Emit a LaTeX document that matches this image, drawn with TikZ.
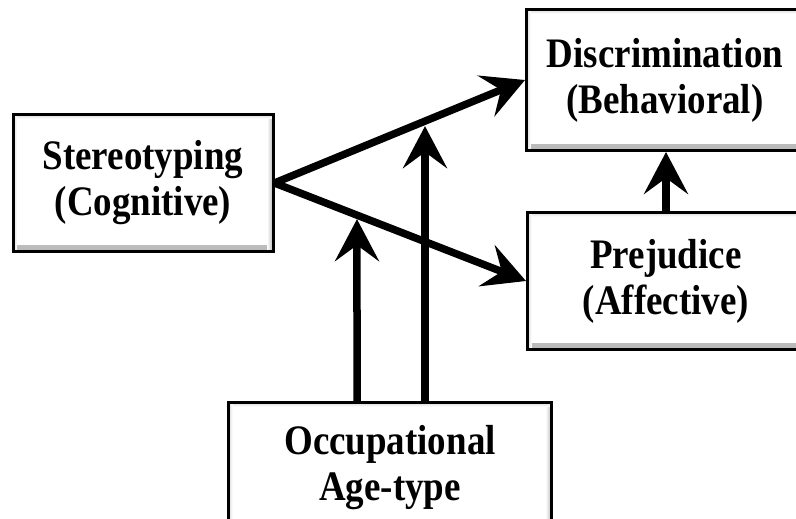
\documentclass[tikz,border=0pt]{standalone}
\usepackage{fontspec}
\setmainfont{Liberation Serif}[FakeStretch=0.88]
\usetikzlibrary{arrows.meta}
\tikzset{
  box/.style={draw=black, line width=3pt, fill=white, align=center,
    font=\bfseries\fontsize{42}{46}\selectfont, inner sep=0pt,
    path picture={
      \shade[top color=white, bottom color=gray!55]
        ([yshift=6pt]path picture bounding box.south west) rectangle (path picture bounding box.south east);
      \shade[left color=white, right color=gray!55]
        ([xshift=-6pt]path picture bounding box.south east) rectangle (path picture bounding box.north east);
      \shade[top color=gray!30, bottom color=white]
        (path picture bounding box.north west) rectangle ([yshift=-4pt]path picture bounding box.north east);
      \shade[left color=gray!30, right color=white]
        (path picture bounding box.north west) rectangle ([xshift=4pt]path picture bounding box.south west);
    }},
  arr/.style={line width=7.5pt, -{Stealth[length=42pt, width=44pt, inset=16pt]}}
}
\begin{document}
\begin{tikzpicture}[x=1pt, y=-1pt]
\useasboundingbox (0,0) rectangle (796,519);
\node[box, minimum width=260pt, minimum height=137pt] (st) at (143,183) {Stereotyping\\(Cognitive)};
\node[box, minimum width=277pt, minimum height=141pt] (di) at (665,80) {Discrimination\\(Behavioral)};
\node[box, minimum width=277pt, minimum height=137pt] (pr) at (666,281) {Prejudice\\(Affective)};
\node[box, minimum width=323pt, minimum height=130pt] (oc) at (390,467.5) {Occupational\\Age-type};
\coordinate (a1) at (357,0);
\coordinate (a1b) at (357,520);
\coordinate (a2) at (425,0);
\coordinate (a2b) at (425,520);
\draw[arr] (st.east) -- (di.west);
\draw[arr] (st.east) -- (pr.west);
\draw[arr] (pr.north) -- (pr.north |- di.south);
\draw[arr, shorten >=4pt] (oc.north -| a1) -- (intersection of st.east--pr.west and a1--a1b);
\draw[arr, shorten >=5pt] (oc.north -| a2) -- (intersection of st.east--di.west and a2--a2b);
\end{tikzpicture}
\end{document}
